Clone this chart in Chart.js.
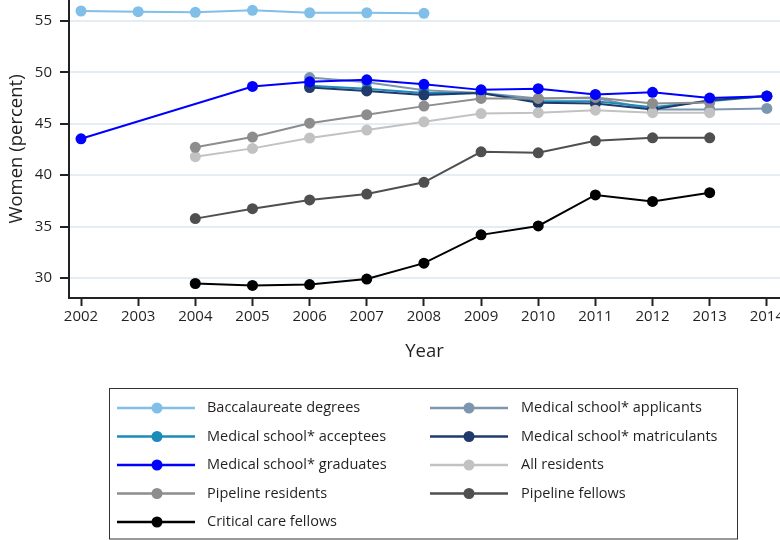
<!DOCTYPE html>
<html>
<head>
<meta charset="utf-8">
<script src="https://cdn.jsdelivr.net/npm/chart.js@4.4.1/dist/chart.umd.min.js"></script>
<style>
  html, body { margin: 0; padding: 0; background: #ffffff; }
  #wrap { width: 780px; height: 540px; position: relative; }
</style>
</head>
<body>
<div id="wrap"><canvas id="chart" width="780" height="540"></canvas></div>
<script>
// Share of women at each stage of the training pipeline, by year
const years = [2002, 2003, 2004, 2005, 2006, 2007, 2008, 2009, 2010, 2011, 2012, 2013, 2014];

const baccalaureate = [55.97, 55.9, 55.84, 56.04, 55.8, 55.8, 55.75, null, null, null, null, null, null];
const applicants    = [null, null, null, null, 49.5, 49.05, 48.27, 48.0, 47.45, 47.5, 46.4, 46.4, 46.5];
const acceptees     = [null, null, null, null, 48.7, 48.4, 48.0, 48.0, 47.2, 47.2, 46.6, 47.2, 47.7];
const matriculants  = [null, null, null, null, 48.53, 48.2, 47.79, 48.0, 47.05, 46.98, 46.4, 47.3, 47.7];
const graduates     = [43.54, null, null, 48.63, 49.08, 49.28, 48.84, 48.3, 48.42, 47.86, 48.06, 47.5, 47.69];
const allResidents  = [null, null, 41.8, 42.61, 43.62, 44.39, 45.19, 46.0, 46.08, 46.33, 46.08, 46.08, null];
const pipelineRes   = [null, null, 42.71, 43.71, 45.06, 45.89, 46.72, 47.47, 47.47, 47.56, 46.98, 47.08, null];
const pipelineFel   = [null, null, 35.78, 36.75, 37.6, 38.17, 39.31, 42.28, 42.18, 43.35, 43.64, 43.64, null];
const criticalCare  = [null, null, 29.47, 29.28, 29.37, 29.9, 31.45, 34.2, 35.07, 38.08, 37.45, 38.3, null];

const yTicks = [30, 35, 40, 45, 50, 55];

const FONT = "'Open Sans', 'Noto Sans', sans-serif";
const INK = '#231f20';

function pts(values) {
  const out = [];
  values.forEach((v, i) => { if (v !== null) out.push({ x: years[i], y: v }); });
  return out;
}

function series(label, values, color, order) {
  return {
    label: label,
    data: pts(values),
    borderColor: color,
    backgroundColor: color,
    pointBackgroundColor: color,
    pointBorderColor: color,
    borderWidth: 2,
    pointRadius: 5.5,
    pointHoverRadius: 5.5,
    pointBorderWidth: 0,
    tension: 0,
    fill: false,
    clip: 8,
    order: order
  };
}

const datasets = [
  series('Baccalaureate degrees', baccalaureate, '#80bfe8', 9),
  series('Medical school* applicants', applicants, '#7d96b0', 6),
  series('Medical school* acceptees', acceptees, '#1b8bb9', 5),
  series('Medical school* matriculants', matriculants, '#203a6c', 4),
  series('Medical school* graduates', graduates, '#0000ff', 0),
  series('All residents', allResidents, '#c2c2c2', 2),
  series('Pipeline residents', pipelineRes, '#8d8d8d', 1),
  series('Pipeline fellows', pipelineFel, '#4f4f4f', 7),
  series('Critical care fellows', criticalCare, '#000000', 8)
];

// Axes sit flush with the canvas edges: drop the label overhang padding
function noOverhang(scale) {
  scale.paddingTop = 0;
  scale.paddingBottom = 0;
  scale.paddingLeft = 0;
  scale.paddingRight = 0;
}

// Boxed two-column legend with line + dot samples
const boxedLegend = {
  id: 'boxedLegend',
  afterDraw(chart) {
    const ctx = chart.ctx;
    const box = { left: 109.5, top: 388.5, right: 737.5, bottom: 539 };
    ctx.save();
    ctx.strokeStyle = '#333333';
    ctx.lineWidth = 1;
    ctx.strokeRect(box.left, box.top, box.right - box.left, box.bottom - box.top);

    const rowY = [408, 436.5, 465, 493.5, 522];
    const cols = [
      { x0: 117, x1: 195, dot: 157, text: 207 },
      { x0: 430, x1: 508, dot: 469, text: 521 }
    ];
    ctx.font = '14.5px ' + FONT;
    ctx.textBaseline = 'middle';
    ctx.textAlign = 'left';
    chart.data.datasets.forEach((ds, i) => {
      const c = cols[i % 2];
      const y = rowY[Math.floor(i / 2)];
      ctx.strokeStyle = ds.borderColor;
      ctx.lineWidth = 2.5;
      ctx.beginPath();
      ctx.moveTo(c.x0, y);
      ctx.lineTo(c.x1, y);
      ctx.stroke();
      ctx.fillStyle = ds.borderColor;
      ctx.beginPath();
      ctx.arc(c.dot, y, 5.5, 0, Math.PI * 2);
      ctx.fill();
      ctx.fillStyle = INK;
      ctx.fillText(ds.label, c.text, y);
    });
    ctx.restore();
  }
};

new Chart(document.getElementById('chart'), {
  type: 'line',
  data: { datasets: datasets },
  options: {
    responsive: false,
    animation: false,
    events: [],
    layout: { autoPadding: false, padding: { left: 0, right: 0, top: 0, bottom: 172 } },
    plugins: {
      legend: { display: false },
      tooltip: { enabled: false },
      title: { display: false }
    },
    scales: {
      x: {
        type: 'linear',
        min: 2001.79,
        max: 2014.23,
        afterFit(scale) { scale.height = 70; noOverhang(scale); },
        border: { display: true, color: '#222222', width: 2 },
        grid: {
          drawOnChartArea: false,
          drawTicks: true,
          tickLength: 8,
          tickColor: '#222222',
          tickWidth: 2
        },
        ticks: {
          stepSize: 1,
          includeBounds: false,
          autoSkip: false,
          maxRotation: 0,
          padding: 2,
          color: INK,
          font: { family: FONT, size: 15 },
          callback: (v) => String(v)
        },
        title: {
          display: true,
          text: 'Year',
          color: INK,
          font: { family: FONT, size: 18.5 },
          padding: { top: 0, bottom: 5 }
        }
      },
      y: {
        min: 28.06,
        max: 57.04,
        afterFit(scale) { scale.width = 69; noOverhang(scale); },
        afterBuildTicks(scale) { scale.ticks = yTicks.map(v => ({ value: v })); },
        border: { display: true, color: '#222222', width: 2 },
        grid: {
          drawOnChartArea: true,
          drawTicks: true,
          tickLength: 9,
          color: '#e3edf3',
          lineWidth: 2,
          tickColor: '#222222',
          tickWidth: 2
        },
        ticks: {
          includeBounds: false,
          padding: 8,
          color: INK,
          font: { family: FONT, size: 15 }
        },
        title: {
          display: true,
          text: 'Women (percent)',
          color: INK,
          font: { family: FONT, size: 18.5 },
          padding: { top: 6, bottom: 0 }
        }
      }
    }
  },
  plugins: [boxedLegend]
});
</script>
</body>
</html>
